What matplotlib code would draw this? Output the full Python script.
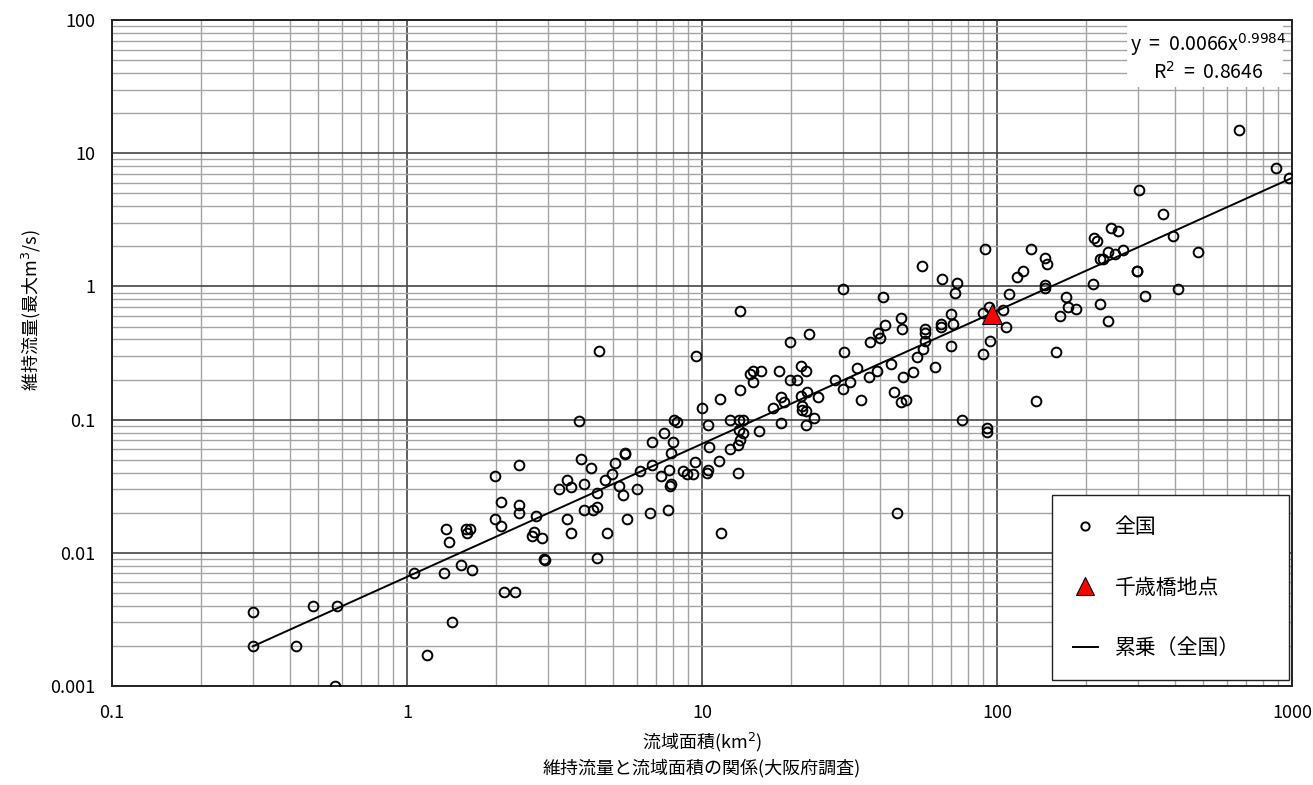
import numpy as np
import matplotlib.pyplot as plt
from matplotlib.patches import Rectangle
from matplotlib.ticker import LogLocator, NullFormatter

plt.rcParams['font.family'] = ['Noto Sans CJK JP', 'DejaVu Sans']

# 全国 data: catchment area (km2) and maintenance flow (m3/s)
area = [0.3, 0.3, 0.42, 0.48, 0.58, 0.57, 1.06, 1.17, 1.34, 1.42, 1.52, 1.66, 1.36, 1.39, 1.58, 1.63,
        1.6, 1.99, 2.39, 2.09, 2.39, 2.39, 1.99, 2.08, 2.74, 2.7, 2.65, 2.87, 2.91, 2.93, 2.14, 2.33,
        3.88, 4.2, 3.48, 3.28, 3.59, 3.98, 4.4, 3.98, 4.26, 4.4, 3.48, 3.59, 4.4, 4.78, 4.7, 4.95,
        5.08, 5.47, 5.5, 5.22, 5.39, 5.56, 6.0, 6.16, 6.77, 6.77, 7.43, 7.96, 7.87, 7.28, 7.75, 7.79,
        7.87, 6.66, 7.67, 8.64, 8.92, 9.3, 9.45, 10.6, 10.4, 10.5, 11.45, 11.6,
        4.49, 3.84, 8.04, 8.25, 9.57, 10.0, 11.5, 10.5, 13.45, 14.9, 14.6, 14.9, 15.8, 18.3, 13.45, 12.4,
        13.4, 13.8, 13.4, 13.8, 15.6, 12.4, 13.2, 13.45, 13.2, 17.4, 18.5, 18.9, 18.5, 21.6, 22.7, 21.8,
        21.8, 22.6, 24.7, 24.0, 22.5, 19.9, 19.9, 21.0, 21.7, 22.5, 23.1, 28.3, 31.7, 30.1, 34.7, 30.1,
        41.0, 30.3, 33.6, 36.7, 39.1, 37.1, 39.5, 40.1, 41.8, 47.2, 47.6, 43.8, 47.9, 51.8, 44.7, 47.2,
        49.1, 45.7,
        55.7, 65.1, 73.3, 71.9, 56.9, 57.1, 57.1, 56.0, 53.4, 69.7, 61.8, 69.7, 70.8, 64.7, 64.4, 76.1,
        92.7, 92.7, 91.2, 93.7, 89.9, 94.7, 89.9, 104.8, 106.9, 109.8, 116.6, 122.2, 129.9,
        660, 883, 980, 304, 365, 396, 481, 243, 258, 214, 218, 237, 251, 267, 223, 229,
        298, 298, 212, 317, 410, 223, 237, 146, 148, 145, 145.5, 171, 174, 185, 163, 159, 136]
flow = [0.0036, 0.002, 0.002, 0.004, 0.004, 0.001, 0.0071, 0.0017, 0.0071, 0.003, 0.0081, 0.0074, 0.015, 0.012, 0.015, 0.015,
        0.014, 0.038, 0.046, 0.024, 0.023, 0.020, 0.018, 0.016, 0.019, 0.0143, 0.0133, 0.0129, 0.0090, 0.0089, 0.0051, 0.0051,
        0.051, 0.043, 0.035, 0.030, 0.031, 0.033, 0.028, 0.021, 0.021, 0.022, 0.018, 0.014, 0.0091, 0.014, 0.035, 0.039,
        0.047, 0.056, 0.055, 0.032, 0.027, 0.018, 0.030, 0.041, 0.068, 0.046, 0.080, 0.068, 0.056, 0.038, 0.042, 0.032,
        0.033, 0.020, 0.021, 0.041, 0.039, 0.039, 0.048, 0.062, 0.040, 0.042, 0.049, 0.014,
        0.33, 0.097, 0.10, 0.096, 0.30, 0.123, 0.143, 0.091, 0.166, 0.193, 0.22, 0.23, 0.23, 0.23, 0.65, 0.099,
        0.10, 0.10, 0.083, 0.080, 0.082, 0.060, 0.064, 0.070, 0.040, 0.123, 0.148, 0.135, 0.094, 0.15, 0.16, 0.126,
        0.119, 0.117, 0.148, 0.102, 0.091, 0.38, 0.20, 0.20, 0.254, 0.23, 0.44, 0.197, 0.19, 0.17, 0.141, 0.96,
        0.84, 0.32, 0.243, 0.21, 0.23, 0.38, 0.45, 0.41, 0.51, 0.575, 0.48, 0.26, 0.21, 0.226, 0.16, 0.135,
        0.14, 0.020,
        1.43, 1.14, 1.07, 0.90, 0.48, 0.45, 0.39, 0.34, 0.295, 0.355, 0.25, 0.62, 0.52, 0.525, 0.50, 0.10,
        0.087, 0.081, 1.91, 0.70, 0.63, 0.39, 0.31, 0.67, 0.50, 0.88, 1.18, 1.30, 1.90,
        15.0, 7.7, 6.5, 5.3, 3.5, 2.4, 1.8, 2.74, 2.62, 2.31, 2.2, 1.8, 1.76, 1.89, 1.6, 1.62,
        1.3, 1.31, 1.05, 0.85, 0.96, 0.74, 0.55, 1.63, 1.48, 1.02, 0.98, 0.83, 0.70, 0.68, 0.60, 0.32, 0.137]

# 千歳橋地点
site_area = [96]
site_flow = [0.62]

# power trendline y = a x^b
fit_a = 0.0066
fit_b = 0.9984
fit_r2 = 0.8646
fit_range = [0.3, 1000]

xticks = [0.1, 1, 10, 100, 1000]
xtick_labels = ['0.1', '1', '10', '100', '1000']
yticks = [0.001, 0.01, 0.1, 1, 10, 100]
ytick_labels = ['0.001', '0.01', '0.1', '1', '10', '100']

fig = plt.figure(figsize=(13.13, 7.85), dpi=100)
ax = fig.add_axes([0.0853, 0.1261, 0.8987, 0.8484])

ax.set_xscale('log')
ax.set_yscale('log')
ax.set_xlim(0.1, 1000)
ax.set_ylim(0.001, 100)

# grid
ax.set_axisbelow(True)
ax.xaxis.set_minor_locator(LogLocator(base=10, subs=np.arange(2, 10)))
ax.yaxis.set_minor_locator(LogLocator(base=10, subs=np.arange(2, 10)))
ax.xaxis.set_minor_formatter(NullFormatter())
ax.yaxis.set_minor_formatter(NullFormatter())
ax.grid(which='major', color='#444444', linewidth=1.2)
ax.grid(which='minor', color='#a4a4a4', linewidth=1.0)

ax.set_xticks(xticks, labels=xtick_labels)
ax.set_yticks(yticks, labels=ytick_labels)
ax.tick_params(which='both', length=0)
ax.tick_params(axis='x', pad=13, labelsize=13)
ax.tick_params(axis='y', pad=12, labelsize=13)
for s in ax.spines.values():
    s.set_linewidth(1.4)
    s.set_color('#222222')

# data
ax.plot(area, flow, linestyle='none', marker='o', markersize=7, markerfacecolor='none',
        markeredgecolor='black', markeredgewidth=1.4, label='全国', zorder=3)
ax.plot(site_area, site_flow, linestyle='none', marker='^', markersize=15, markerfacecolor='red',
        markeredgecolor='black', markeredgewidth=0.8, label='千歳橋地点', zorder=5)
fx = np.array(fit_range)
ax.plot(fx, fit_a * fx ** fit_b, color='black', linewidth=1.4, label='累乗（全国）', zorder=4)

# equation box
ax.add_patch(Rectangle((0.860, 0.899), 0.132, 0.101, transform=ax.transAxes,
                       facecolor='white', edgecolor='none', zorder=2.5))
ax.text(0.929, 0.944, 'y  =  %.4fx$^{%.4f}$\nR$^2$  =  %.4f' % (fit_a, fit_b, fit_r2),
        transform=ax.transAxes, ha='center', va='center', multialignment='center',
        fontsize=14, linespacing=1.25, zorder=3)

# legend
leg = ax.legend(loc='lower right', bbox_to_anchor=(0.7966, 0.009, 0.2008, 0.2), mode='expand',
                borderaxespad=0, fontsize=15, frameon=True, fancybox=False, edgecolor='#222222',
                framealpha=1, borderpad=1.0, labelspacing=1.85, handlelength=1.2,
                handletextpad=0.8, markerscale=0.85)
leg.get_frame().set_linewidth(1.0)

ax.set_xlabel('流域面積(km$^2$)', fontsize=13)
ax.xaxis.set_label_coords(0.5, -0.084)
ax.xaxis.label.set_va('center')
ax.set_ylabel('維持流量(最大m$^3$/s)', fontsize=13)
ax.yaxis.set_label_coords(-0.0685, 0.565)
ax.yaxis.label.set_va('center')

fig.text(0.5347, 0.0217, '維持流量と流域面積の関係(大阪府調査)', ha='center', va='center', fontsize=13)

fig.savefig('out.png', dpi=100)
